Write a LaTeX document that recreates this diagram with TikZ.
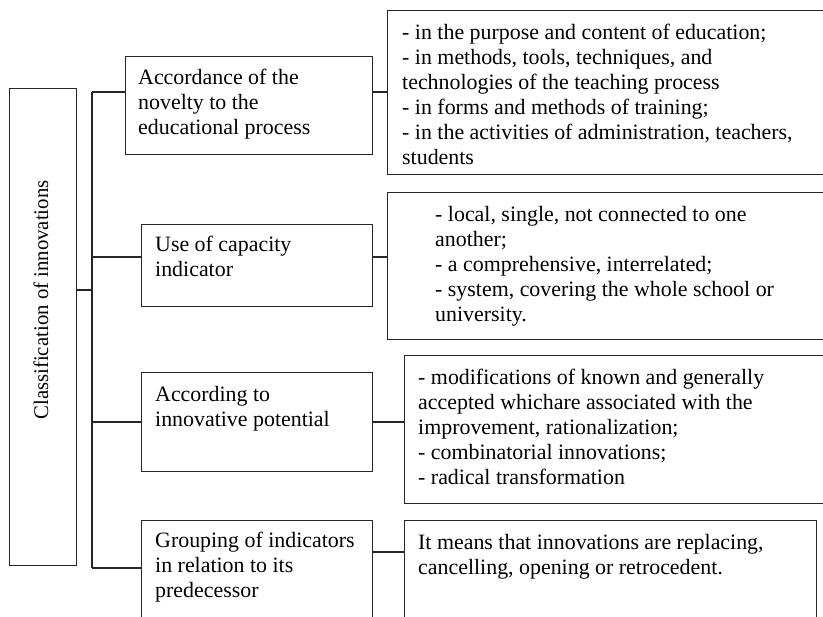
\documentclass[tikz,border=0pt]{standalone}
\usepackage{fontspec}
\setmainfont{Liberation Serif}
\usetikzlibrary{positioning,calc}

\begin{document}
\begin{tikzpicture}[x=1pt, y=-1pt,
    box/.style={draw=black!85, line width=1.1pt, rectangle, inner sep=0pt, anchor=north west},
    txt/.style={anchor=north west, align=left, inner sep=0pt, font=\fontsize{21.9}{25}\selectfont},
    link/.style={draw=black!85, line width=1.1pt}
]
    \useasboundingbox (0,0) rectangle (823,617);
    \clip (0,0) rectangle (823,617);

    % Root box with rotated title
    \node [box, minimum width=67pt, minimum height=477pt] (root) at (9,88) {};
    \node [font=\fontsize{20.8}{25}\selectfont, rotate=90] (title) at (41,300) {Classification of innovations};

    % Criteria boxes
    \node [box, minimum width=247pt, minimum height=98pt] (b1) at (125,56) {};
    \node [box, minimum width=231pt, minimum height=82pt] (b2) at (141,224) {};
    \node [box, minimum width=231pt, minimum height=99pt] (b3) at (141,372) {};
    \node [box, minimum width=231pt, minimum height=100pt] (b4) at (141,520) {};
    \node [txt] (t1) at ($(b1.north west)+(13,13)$) {Accordance of the\\novelty to the\\educational process};
    \node [txt] (t2) at ($(b2.north west)+(14,12)$) {Use of capacity\\indicator};
    \node [txt] (t3) at ($(b3.north west)+(14,14)$) {According to\\innovative potential};
    \node [txt] (t4) at ($(b4.north west)+(14,12)$) {Grouping of indicators\\in relation to its\\predecessor};

    % Description boxes
    \node [box, minimum width=460pt, minimum height=164pt] (r1) at (387,10) {};
    \node [box, minimum width=460pt, minimum height=147pt] (r2) at (387,192) {};
    \node [box, minimum width=440pt, minimum height=148pt] (r3) at (404,355) {};
    \node [box, minimum width=412pt, minimum height=110pt] (r4) at (404,520) {};
    \node [txt] (d1) at ($(r1.north west)+(15,14)$) {- in the purpose and content of education;\\- in methods, tools, techniques, and\\technologies of the teaching process\\- in forms and methods of training;\\- in the activities of administration, teachers,\\students};
    \node [txt] (d2) at ($(r2.north west)+(48,14)$) {- local, single, not connected to one\\another;\\- a comprehensive, interrelated;\\- system, covering the whole school or\\university.};
    \node [txt] (d3) at ($(r3.north west)+(14,14)$) {- modifications of known and generally\\accepted whichare associated with the\\improvement, rationalization;\\- combinatorial innovations;\\- radical transformation};
    \node [txt] (d4) at ($(r4.north west)+(14,14)$) {It means that innovations are replacing,\\cancelling, opening or retrocedent.};

    % Connector levels
    \coordinate (rj) at (92,290);
    \foreach \n/\y in {1/92, 2/257, 3/422, 4/568} {
        \coordinate (j\n) at (92,\y);
    }
    \foreach \n/\y in {1/92, 2/257, 3/422, 4/552} {
        \coordinate (k\n) at (380,\y);
    }

    % Trunk and branches
    \draw [link] (j1) -- (j4);
    \draw [link] (root.east |- rj) -- (rj);
    \foreach \n in {1,...,4} {
        \draw [link] (j\n) -- (j\n -| b\n.west);
        \draw [link] (b\n.east |- k\n) -- (r\n.west |- k\n);
    }
\end{tikzpicture}
\end{document}
